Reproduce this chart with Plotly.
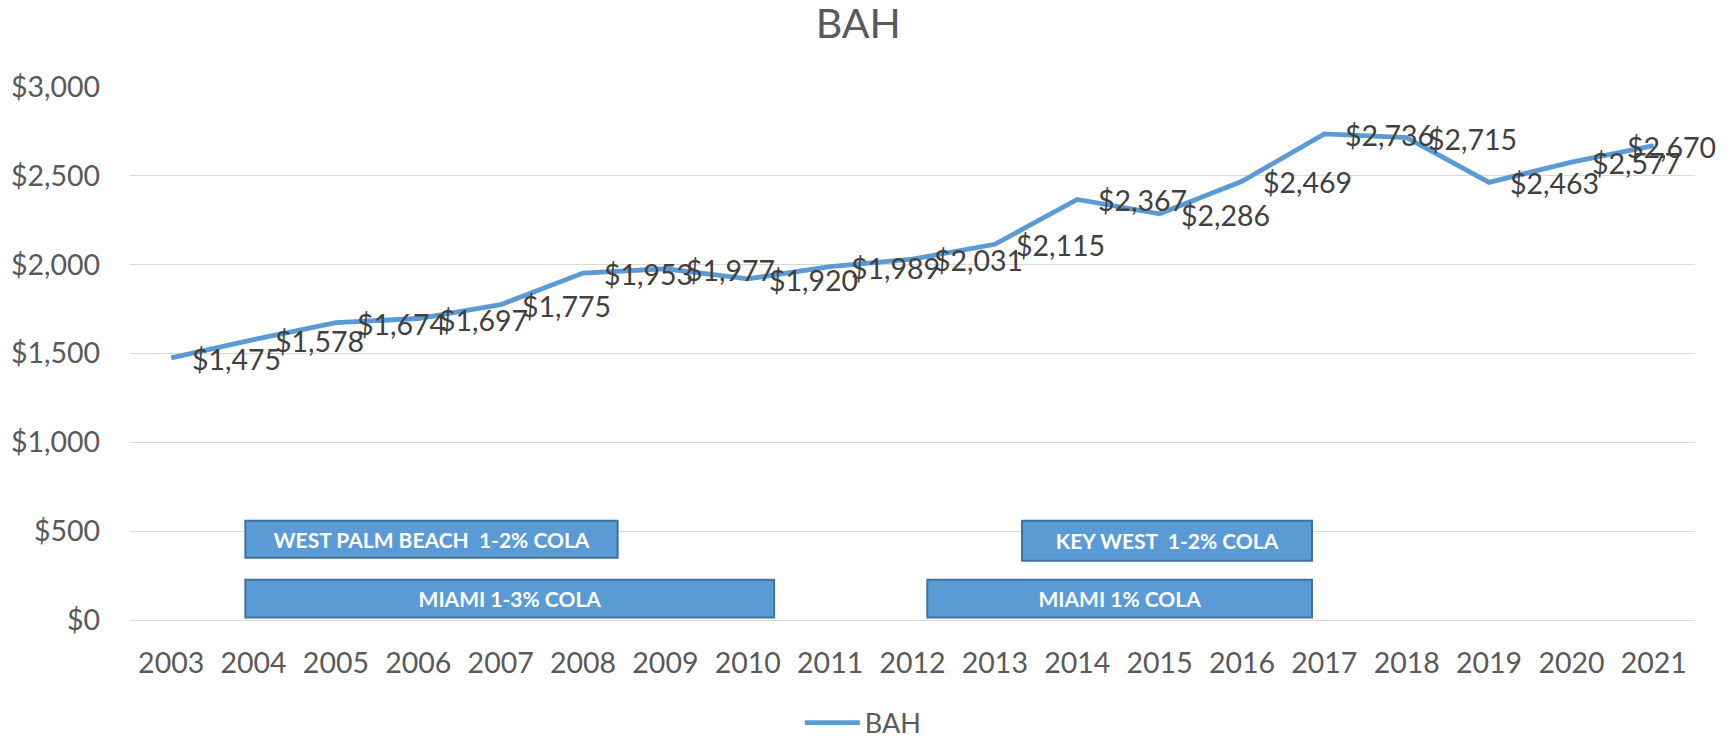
import plotly.graph_objects as go

years = list(range(2003, 2022))
bah = [1475, 1578, 1674, 1697, 1775, 1953, 1977, 1920, 1989, 2031,
       2115, 2367, 2286, 2469, 2736, 2715, 2463, 2577, 2670]
bah_labels = [f"${v:,}" for v in bah]
y_ticks = [0, 500, 1000, 1500, 2000, 2500, 3000]
y_ticktext = [f"${v:,}" for v in y_ticks]

# COLA periods (year spans) and bands (value spans) shown as boxes
cola_text = ["WEST PALM BEACH\u00a0\u00a01-2% COLA", "MIAMI 1-3% COLA",
             "KEY WEST\u00a0\u00a01-2% COLA", "MIAMI 1% COLA"]
cola_start = [2003.9, 2003.9, 2013.33, 2012.18]
cola_end = [2008.42, 2010.32, 2016.85, 2016.85]
cola_low = [350, 14, 333, 14]
cola_high = [559, 227, 559, 227]

BLUE = "#5B9BD5"
FONT = "Lato, 'Open Sans', sans-serif"

fig = go.Figure()
fig.add_trace(go.Scatter(
    x=years, y=bah, name="BAH", mode="lines",
    line=dict(color=BLUE, width=4.8),
    hoverinfo="x+y",
))

# data labels, placed to the right of each point; the last one is pulled
# back inside the chart area (as the original chart does)
n = len(years)
for i, (x, y, t) in enumerate(zip(years, bah, bah_labels)):
    last = i == n - 1
    fig.add_annotation(
        x=x, y=y, xref="x", yref="y", text=t, showarrow=False,
        xanchor="right" if last else "left", yanchor="middle",
        xshift=64 if last else 19, yshift=-1,
        font=dict(family=FONT, size=28.5, color="#404040"),
    )

for t, x0, x1, y0, y1 in zip(cola_text, cola_start, cola_end, cola_low, cola_high):
    fig.add_shape(type="rect", xref="x", yref="y", x0=x0, x1=x1, y0=y0, y1=y1,
                  fillcolor=BLUE, line=dict(color="#41719C", width=2),
                  label=dict(text=t, textposition="middle center",
                             font=dict(family=FONT, size=21, color="white", weight="bold")))

# the page adds an 8px body margin, so the figure is 8px smaller each way
fig.update_layout(
    width=1723, height=731,
    paper_bgcolor="white", plot_bgcolor="white",
    margin=dict(l=122, r=36, t=78.5, b=118.5, autoexpand=False),
    title=dict(text="BAH", x=0.4935, xanchor="center", y=0.978, yanchor="middle",
               font=dict(family=FONT, size=41, color="#595959")),
    font=dict(family=FONT, color="#595959"),
    showlegend=True,
    legend=dict(orientation="h", x=0.4686, xanchor="center",
                yref="container", y=0.0219, yanchor="middle",
                itemwidth=55,
                font=dict(family=FONT, size=27, color="#595959"),
                bgcolor="rgba(0,0,0,0)"),
    xaxis=dict(range=[2002.5, 2021.5], tickmode="array", tickvals=years,
               ticktext=[str(y) for y in years], showgrid=False, zeroline=False,
               showline=False, ticks="", ticklabelstandoff=23, automargin=False,
               tickfont=dict(family=FONT, size=28.5, color="#595959")),
    yaxis=dict(range=[0, 3000], tickmode="array", tickvals=y_ticks, ticktext=y_ticktext,
               showgrid=True, gridcolor="#D9D9D9", gridwidth=1.3,
               zeroline=True, zerolinecolor="#D9D9D9", zerolinewidth=1.3,
               showline=False, ticks="", ticklabelstandoff=29, automargin=False,
               tickfont=dict(family=FONT, size=28.5, color="#595959")),
)

fig.write_html("out.html")
